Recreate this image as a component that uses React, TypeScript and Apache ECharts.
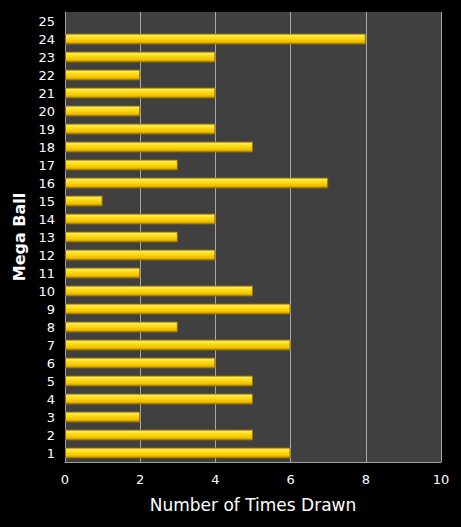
import React, { useEffect, useRef } from "react";
import * as echarts from "echarts";

const balls = [
  "1", "2", "3", "4", "5", "6", "7", "8", "9", "10", "11", "12", "13",
  "14", "15", "16", "17", "18", "19", "20", "21", "22", "23", "24", "25",
];
const timesDrawn = [6, 5, 2, 5, 5, 4, 6, 3, 6, 5, 2, 4, 3, 4, 1, 7, 3, 5, 4, 2, 4, 2, 4, 8, 0];

function MegaBallChart() {
  const chartRef = useRef<HTMLDivElement>(null);

  useEffect(() => {
    const myChart = echarts.init(chartRef.current!, null, { renderer: "svg" });
    const font = "Verdana, 'DejaVu Sans', sans-serif";
    const option: echarts.EChartsOption = {
      animation: false,
      backgroundColor: "#000000",
      grid: {
        left: 65,
        right: 20,
        top: 12,
        bottom: 65,
        show: true,
        backgroundColor: "#404040",
        borderWidth: 0,
      },
      xAxis: {
        type: "value",
        min: 0,
        max: 10,
        interval: 2,
        name: "Number of Times Drawn",
        nameLocation: "middle",
        nameGap: 34,
        nameTextStyle: { color: "#ffffff", fontSize: 17, fontFamily: font },
        axisLine: { show: true, lineStyle: { color: "#a0a0a0", width: 1 } },
        axisTick: { show: false },
        axisLabel: { color: "#ffffff", fontSize: 13, fontFamily: font, margin: 11 },
        splitLine: { show: true, lineStyle: { color: "#a8a8a8", width: 1 } },
      },
      yAxis: {
        type: "category",
        data: balls,
        name: "Mega Ball",
        nameLocation: "middle",
        nameGap: 38,
        nameTextStyle: { color: "#ffffff", fontSize: 16, fontWeight: "bold", fontFamily: font },
        axisLine: { show: true, lineStyle: { color: "#a0a0a0", width: 1 } },
        axisTick: { show: false },
        axisLabel: { color: "#ffffff", fontSize: 13, fontFamily: font, margin: 10 },
      },
      series: [
        {
          type: "bar",
          data: timesDrawn.map((v) =>
            v === 0 ? { value: v, itemStyle: { borderWidth: 0 } } : v
          ),
          barWidth: "60%",
          itemStyle: {
            color: new echarts.graphic.LinearGradient(0, 0, 0, 1, [
              { offset: 0, color: "#fff07a" },
              { offset: 0.35, color: "#ffde1a" },
              { offset: 0.75, color: "#f2c200" },
              { offset: 1, color: "#b88c00" },
            ]),
            borderColor: "#9a7400",
            borderWidth: 1,
          },
        },
      ],
    };

    myChart.setOption(option);

    return () => {
      myChart.dispose();
    };
  }, []);

  return (
    <div
      ref={chartRef}
      style={{ position: "fixed", left: 0, top: 0, width: 461, height: 527 }}
    />
  );
}

export default function App() {
  return <MegaBallChart />;
}
